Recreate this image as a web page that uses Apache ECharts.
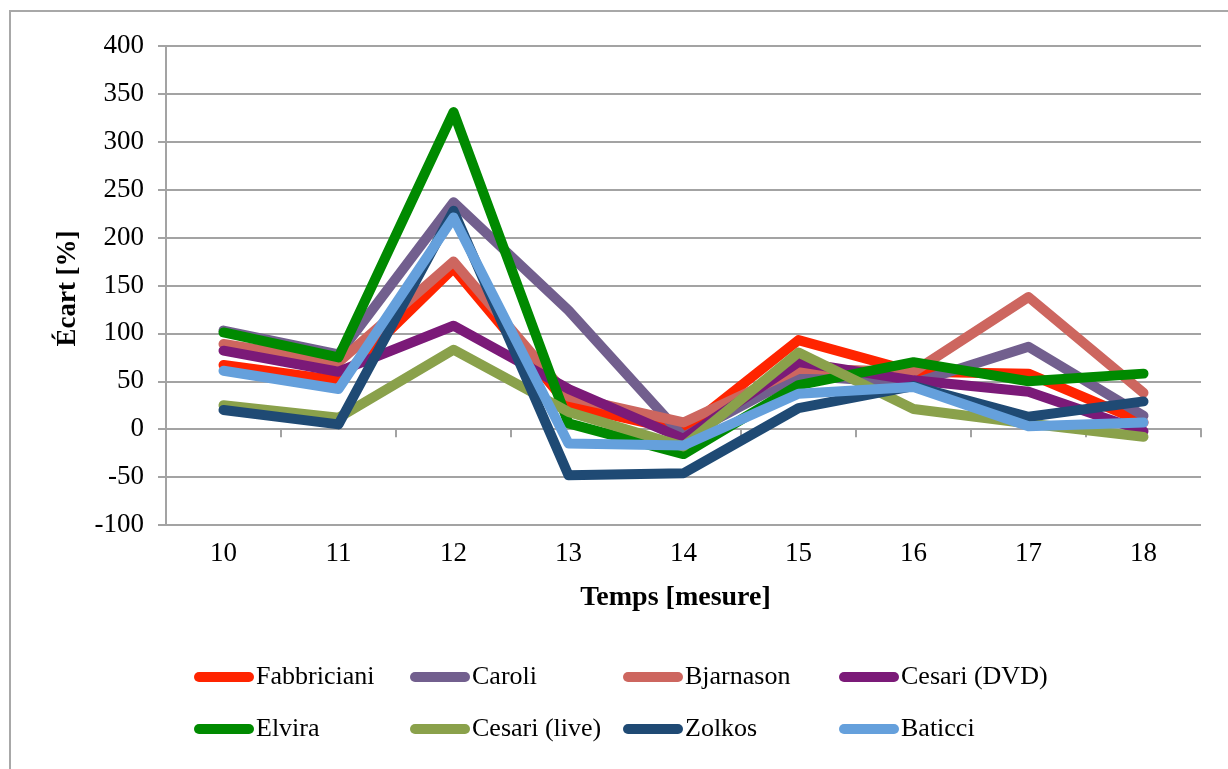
<!DOCTYPE html>
<html>
<head>
<meta charset="utf-8">
<script src="https://cdn.jsdelivr.net/npm/echarts@6/dist/echarts.min.js"></script>
<style>
html,body{margin:0;padding:0;background:#fff;}
#chart{width:1228px;height:769px;}
</style>
</head>
<body>
<div id="chart"></div>
<script>
var categories = ['10','11','12','13','14','15','16','17','18'];
var seriesNames = ['Fabbriciani','Caroli','Bjarnason','Cesari (DVD)','Elvira','Cesari (live)','Zolkos','Baticci'];
var fabbriciani = [67, 51, 168, 25, -2, 93, 60, 58, 7];
var caroli      = [103, 78, 237, 124, -8, 56, 48, 86, 14];
var bjarnason   = [89, 70, 175, 34, 7, 63, 60, 138, 38];
var cesariDVD   = [82, 60, 108, 42, -10, 70, 51, 39, -2];
var elvira      = [101, 75, 331, 6, -26, 46, 70, 50, 58];
var cesariLive  = [25, 12, 83, 18, -18, 80, 21, 6, -8];
var zolkos      = [20, 5, 228, -48, -46, 22, 45, 13, 29];
var baticci     = [61, 42, 221, -15, -17, 37, 44, 3, 7];
var yTicks = [-100, -50, 0, 50, 100, 150, 200, 250, 300, 350, 400];

var colors = ['#FF2400','#725F8E','#CD665F','#7B1A78','#008A00','#8AA14B','#1F4A74','#65A0DC'];
var values = [fabbriciani, caroli, bjarnason, cesariDVD, elvira, cesariLive, zolkos, baticci];

var FONT = '"Liberation Serif", "DejaVu Serif", serif';
var gridCol = '#a3a3a3';
var capsule = 'path://M5,0L55,0A5,5,0,0,1,55,10L5,10A5,5,0,0,1,5,0Z';

var series = seriesNames.map(function(n, i){
  return {
    name: n, type: 'line', data: values[i], symbol: 'none',
    xAxisIndex: 0, yAxisIndex: 0,
    lineStyle: {color: colors[i], width: 10, cap: 'round', join: 'round'},
    itemStyle: {color: colors[i]},
    emphasis: {disabled: true}
  };
});

var colX = [194, 410, 623, 839];
var legends = colX.map(function(x, c){
  return {
    orient: 'vertical', left: x, top: 664, padding: 0,
    itemWidth: 60, itemHeight: 10, itemGap: 26,
    icon: capsule,
    data: [seriesNames[c], seriesNames[c+4]],
    textStyle: {fontFamily: FONT, fontSize: 26, color: '#000', padding: [0,0,0,-3]},
    selectedMode: false
  };
});

var chart = echarts.init(document.getElementById('chart'), null, {renderer: 'canvas'});
chart.setOption({
  backgroundColor: '#fff',
  animation: false,
  color: colors,
  graphic: [{
    type: 'rect', shape: {x: 10, y: 11, width: 1400, height: 900},
    style: {fill: 'none', stroke: '#a8a8a8', lineWidth: 2}, silent: true, z: -10
  }],
  grid: {left: 166, right: 27, top: 46, bottom: 244, containLabel: false},
  legend: legends,
  xAxis: [{
    type: 'category', data: categories, boundaryGap: true, position: 'bottom',
    axisLine: {show: true, onZero: true, lineStyle: {color: gridCol, width: 2}},
    axisTick: {show: true, length: 8, lineStyle: {color: gridCol, width: 2}},
    axisLabel: {show: false}, splitLine: {show: false}
  },{
    type: 'category', data: categories, boundaryGap: true, position: 'bottom',
    axisLine: {show: false, onZero: false}, axisTick: {show: false},
    axisLabel: {show: true, margin: 15, fontFamily: FONT, fontSize: 27, color: '#000'},
    splitLine: {show: false},
    name: 'Temps [mesure]', nameLocation: 'middle', nameGap: 59,
    nameTextStyle: {fontFamily: FONT, fontSize: 28, fontWeight: 'bold', color: '#000', padding: [0, 16, 0, 0]}
  }],
  yAxis: [{
    type: 'value', min: yTicks[0], max: yTicks[yTicks.length-1], interval: 50,
    axisLine: {show: true, lineStyle: {color: gridCol, width: 2}},
    axisTick: {show: true, length: 8, lineStyle: {color: gridCol, width: 2}},
    axisLabel: {margin: 22, fontFamily: FONT, fontSize: 27, color: '#000'},
    splitLine: {show: true, lineStyle: {color: gridCol, width: 2}},
    name: 'Écart [%]', nameLocation: 'middle', nameGap: 84, nameRotate: 90,
    nameTextStyle: {fontFamily: FONT, fontSize: 27, fontWeight: 'bold', color: '#000', padding: [0, 6, 0, 0]}
  }],
  series: series
});
</script>
</body>
</html>
